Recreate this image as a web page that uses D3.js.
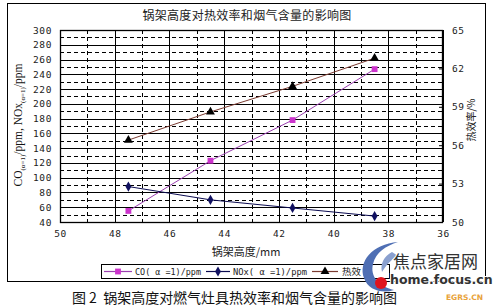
<!DOCTYPE html>
<html><head><meta charset="utf-8">
<script src="https://cdn.jsdelivr.net/npm/d3@7"></script>
<style>
body{margin:0;background:#fff;}
svg{display:block;}
.tick text{font-family:"DejaVu Sans Mono",monospace;}
</style></head>
<body>
<svg id="c" width="493" height="308"></svg>
<script>
// ---- data ----
const heights = [47.5, 44.5, 41.5, 38.5];          // 锅架高度/mm
const coValues = [55, 123, 178, 247];               // CO(α=1)/ppm
const noxValues = [88, 70, 59, 48];                 // NOx(α=1)/ppm
const effValues = [56.4, 58.6, 60.6, 62.8];         // 热效率/%
const xTicks = [50, 48, 46, 44, 42, 40, 38, 36];
const yLeftTicks = [40,60,80,100,120,140,160,180,200,220,240,260,280,300];
const yRightTicks = [50, 53, 56, 59, 62, 65];
const titleText = "锅架高度对热效率和烟气含量的影响图";
const xLabel = "锅架高度/mm";
const yRightLabel = "热效率/%";
const captionText = "图\u00a02\u00a0\u00a0锅架高度对燃气灶具热效率和烟气含量的影响图";
const legendNames = ["CO(\u00a0α\u00a0=1)/ppm", "NOx(\u00a0α\u00a0=1)/ppm", "热效"];

const svg = d3.select("#c");
const L = 60, R = 443, T = 30, B = 222;
const x = d3.scaleLinear().domain([50, 36]).range([L, R]);
const yL = d3.scaleLinear().domain([40, 300]).range([B, T]);
const yR = d3.scaleLinear().domain([50, 65]).range([B, T]);

// outer frame
svg.append("rect").attr("x",7.5).attr("y",3.5).attr("width",478).attr("height",278)
  .attr("fill","#fff").attr("stroke","#000").attr("stroke-width",1);

// title
svg.append("text").attr("x",247).attr("y",20).attr("text-anchor","middle")
  .attr("font-family","Noto Sans CJK SC").attr("font-size",12).attr("letter-spacing",0.3)
  .attr("fill","#222").text(titleText);

// grid
const g = svg.append("g");
d3.range(40, 301, 10).forEach(v => {
  const major = v % 20 === 0;
  g.append("line").attr("x1",L).attr("x2",R).attr("y1",Math.round(yL(v))+0.5).attr("y2",Math.round(yL(v))+0.5)
    .attr("stroke","#000").attr("stroke-width",1)
    .attr("stroke-dasharray", major ? null : "4,3");
});
d3.range(36, 51, 1).forEach(v => {
  const major = v % 2 === 0;
  g.append("line").attr("y1",T).attr("y2",B).attr("x1",Math.round(x(v))+0.5).attr("x2",Math.round(x(v))+0.5)
    .attr("stroke","#000").attr("stroke-width",1)
    .attr("stroke-dasharray", major ? null : "4,3");
});
svg.append("rect").attr("x",L+0.5).attr("y",T+0.5).attr("width",R-L-1).attr("height",B-T)
  .attr("fill","none").attr("stroke","#000").attr("stroke-width",1.3);

// axes
const axL = svg.append("g").attr("transform",`translate(${L},0)`)
  .call(d3.axisLeft(yL).tickValues(yLeftTicks).tickSize(0).tickPadding(8));
const axB = svg.append("g").attr("transform",`translate(0,${B})`)
  .call(d3.axisBottom(x).tickValues(xTicks).tickSize(0).tickPadding(8));
const axR = svg.append("g").attr("transform",`translate(${R},0)`)
  .call(d3.axisRight(yR).tickValues(yRightTicks).tickSize(-4).tickPadding(9));
[axL, axB, axR].forEach(a => {
  a.select(".domain").remove();
  a.selectAll(".tick text").attr("font-size",9.5).attr("letter-spacing",0.6).attr("fill","#222");
  a.selectAll(".tick line").attr("stroke","#000");
});

// axis labels
svg.append("text").attr("x",246).attr("y",256).attr("text-anchor","middle")
  .attr("font-family","Noto Sans CJK SC").attr("font-size",11).attr("fill","#222").text(xLabel);
svg.append("text").attr("transform","translate(475,120) rotate(-90)").attr("text-anchor","middle")
  .attr("font-family","Noto Sans CJK SC").attr("font-size",10).attr("fill","#222").text(yRightLabel);
const yl = svg.append("text").attr("transform","translate(22,125) rotate(-90)").attr("text-anchor","middle")
  .attr("font-family","Liberation Serif").attr("font-size",11.5).attr("fill","#111");
yl.append("tspan").text("CO");
yl.append("tspan").attr("font-size",7).attr("dy",3).text("(α=1)");
yl.append("tspan").attr("dy",-3).text("/ppm, NOx");
yl.append("tspan").attr("font-size",7).attr("dy",3).text("(α=1)");
yl.append("tspan").attr("dy",-3).text("/ppm");

// series
const series = [
  {vals: coValues, y: yL, line: "#9b3fb0", mark: "#cc33cc", sym: d3.symbolSquare, size: 34},
  {vals: noxValues, y: yL, line: "#0a0a50", mark: "#101060", sym: d3.symbolDiamond, size: 30},
  {vals: effValues, y: yR, line: "#7a3a30", mark: "#000", sym: d3.symbolTriangle, size: 34}
];
series.forEach(s => {
  const pts = heights.map((h,i) => [x(h), s.y(s.vals[i])]);
  svg.append("path").attr("d", d3.line()(pts)).attr("fill","none")
    .attr("stroke", s.line).attr("stroke-width",1);
  svg.selectAll(null).data(pts).join("path")
    .attr("transform", d => `translate(${d[0]},${d[1]})`)
    .attr("d", d3.symbol().type(s.sym).size(s.size)).attr("fill", s.mark);
});

// legend
svg.append("rect").attr("x",101.5).attr("y",264.5).attr("width",288).attr("height",14)
  .attr("fill","#fff").attr("stroke","#000").attr("stroke-width",1);
const legX = [[104,132,135,66],[206,230,233,74],[312,338,342,0]];
series.forEach((s,i) => {
  const [a,b,t,w] = legX[i];
  svg.append("line").attr("x1",a).attr("x2",b).attr("y1",271.5).attr("y2",271.5)
    .attr("stroke", s.line).attr("stroke-width",1.2);
  svg.append("path").attr("transform",`translate(${(a+b)/2},271.5)`)
    .attr("d", d3.symbol().type(s.sym).size(s.size)).attr("fill", s.mark);
  const tx = svg.append("text").attr("x",t).attr("y",275)
    .attr("font-family", i===2 ? "Noto Sans CJK SC" : "DejaVu Sans Mono")
    .attr("font-size", i===2 ? 9.5 : 9).attr("fill","#222").text(legendNames[i]);
  if (w) tx.attr("textLength", w).attr("lengthAdjust","spacingAndGlyphs");
});

// caption
svg.append("text").attr("x",72).attr("y",303)
  .attr("font-family","Noto Sans CJK SC").attr("font-size",14).attr("fill","#111")
  .attr("textLength",325).attr("lengthAdjust","spacing").text(captionText);

// watermark
const wm = svg.append("g");
wm.append("path").attr("d","M398,242 C372,244 358,262 364,278 C368,290 382,294 394,290 C378,286 370,276 373,264 C376,252 386,246 398,242 Z")
  .attr("fill","#4f6fb4");
wm.append("path").attr("d","M392,252 C384,256 380,264 382,272 C386,266 390,260 398,256 Z").attr("fill","#8aa0cf");
wm.append("circle").attr("cx",381).attr("cy",283).attr("r",6).attr("fill","#e0141e");
wm.append("text").attr("x",393).attr("y",268).attr("font-family","Noto Sans CJK SC").attr("font-size",17)
  .attr("fill","#333").attr("stroke","#fff").attr("stroke-width",2).attr("paint-order","stroke").text("焦点家居网");
wm.append("text").attr("x",390).attr("y",284).attr("font-family","DejaVu Sans").attr("font-weight","bold").attr("font-size",12.5)
  .attr("fill","#333").attr("stroke","#fff").attr("stroke-width",2).attr("paint-order","stroke").text("home.focus.cn");
wm.append("text").attr("x",446).attr("y",300).attr("font-family","DejaVu Sans").attr("font-weight","bold").attr("font-size",7.5)
  .attr("fill","#e8a23a").text("EGRS.CN");
</script>
</body></html>
